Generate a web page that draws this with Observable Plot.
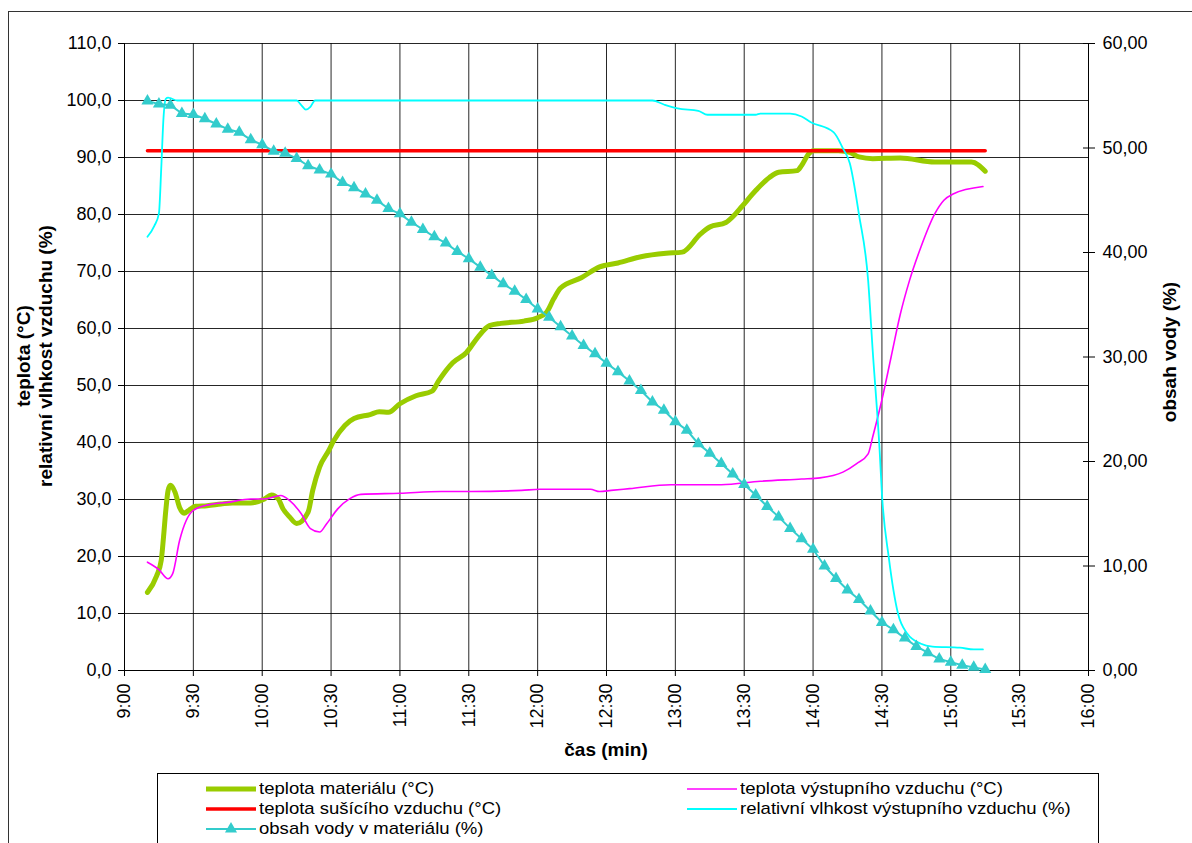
<!DOCTYPE html>
<html><head><meta charset="utf-8">
<script src="https://cdn.jsdelivr.net/npm/d3@7"></script>
<script src="https://cdn.jsdelivr.net/npm/@observablehq/plot@0.6"></script>
<style>
body{margin:0;background:#fff;font-family:"Liberation Sans",Arial,sans-serif;}
#wrap{position:relative;width:1192px;height:843px;overflow:hidden;background:#fff;}
#frame{position:absolute;left:8px;top:11px;width:1300px;height:900px;border:1.5px solid #333;}
#chart{position:absolute;left:0;top:0;}
#legend{position:absolute;left:157px;top:773px;width:940px;height:100px;border:1px solid #000;background:#fff;}
.item{position:absolute;height:20px;display:flex;align-items:center;font-size:17px;white-space:nowrap;color:#000;}
.item svg{flex:none;margin-right:3px;}
.item span{display:inline-block;transform:scaleX(1.09);transform-origin:left center;}
</style></head>
<body>
<div id="wrap">
  <div id="frame"></div>
  <div id="chart"></div>
  <div id="legend"></div>
</div>
<script>
// ---------- data ----------
const xTickLabels = ["9:00","9:30","10:00","10:30","11:00","11:30","12:00","12:30","13:00","13:30","14:00","14:30","15:00","15:30","16:00"];
const leftTicks = [0,10,20,30,40,50,60,70,80,90,100,110];
const rightTicks = [0,10,20,30,40,50,60];

// teplota materiálu (°C)
const materialTime = ["9:10","9:14","9:16","9:17","9:18","9:19","9:20","9:22","9:24","9:26","9:28","9:31","9:36","9:42","9:47","9:55","10:01","10:04","10:07","10:09","10:12","10:15","10:20","10:22","10:25","10:29","10:31","10:36","10:40","10:47","10:51","10:55","11:00","11:07","11:14","11:17","11:23","11:29","11:34","11:39","11:44","11:54","12:00","12:04","12:07","12:10","12:19","12:27","12:35","12:45","12:56","13:03","13:11","13:15","13:22","13:25","13:29","13:35","13:41","13:45","13:53","13:55","13:58","14:00","14:11","14:16","14:20","14:26","14:38","14:53","15:09","15:15"];
const materialTemp = [13.7,16.6,19.3,23.4,28.1,31.6,32.5,31.3,28.6,27.6,28.1,28.8,28.9,29.2,29.4,29.4,30.1,30.8,30.1,28.4,26.9,25.8,27.8,31.6,35.7,38.6,40.2,43.0,44.2,44.9,45.4,45.3,46.8,48.2,49.0,50.9,54.0,55.8,58.5,60.5,60.9,61.3,61.9,62.9,65.2,67.1,68.9,70.8,71.5,72.6,73.2,73.4,76.6,77.8,78.6,79.6,81.4,84.2,86.5,87.4,87.7,88.6,90.6,91.2,91.2,90.9,90.1,89.8,89.9,89.2,89.2,87.6];

// teplota sušícího vzduchu (°C)
const dryingTime = ["9:10","15:15"];
const dryingTemp = [91.2,91.2];

// teplota výstupního vzduchu (°C)
const outletTime = ["9:10","9:15","9:19","9:21","9:24","9:30","9:37","9:45","9:55","10:01","10:08","10:12","10:17","10:21","10:25","10:28","10:33","10:38","10:43","11:00","11:18","11:31","11:53","12:01","12:23","12:27","12:32","12:40","12:58","13:20","13:37","13:55","14:03","14:13","14:19","14:24","14:26","14:30","14:34","14:38","14:42","14:47","14:53","14:57","15:01","15:14"];
const outletTemp = [19.0,17.7,16.1,17.0,22.8,28.1,29.1,29.5,30.1,30.1,30.7,29.8,27.5,24.9,24.3,25.7,28.4,30.1,30.9,31.1,31.4,31.4,31.6,31.8,31.8,31.4,31.6,31.9,32.6,32.6,33.2,33.6,33.8,34.8,36.3,38.0,41.0,47.5,55.0,62.5,68.4,74.3,80.1,82.5,83.6,84.9];

// relativní vlhkost výstupního vzduchu (%)
const humidityTime = ["9:10","9:13","9:15","9:16","9:17","9:18","9:19","9:20","9:23","10:15","10:17","10:19","10:21","10:23","12:50","12:55","13:01","13:10","13:14","13:35","13:37","13:50","13:55","13:59","14:09","14:13","14:16","14:20","14:24","14:26","14:29","14:30","14:33","14:37","14:41","14:47","14:52","15:04","15:10","15:14"];
const humidityVal = [76.1,78.0,80.2,88.0,97.0,100.3,100.5,100.4,100.0,100.0,99.2,98.4,98.9,100.0,100.0,99.3,98.6,98.2,97.5,97.5,97.7,97.7,97.2,96.2,94.4,91.6,89.0,80.0,68.4,56.0,38.6,31.0,19.8,10.0,6.5,4.7,4.2,4.0,3.7,3.7];

// obsah vody v materiálu (%) — right axis
const waterTime = ["9:10","9:15","9:20","9:25","9:30","9:35","9:40","9:45","9:50","9:55","10:00","10:05","10:10","10:15","10:20","10:25","10:30","10:35","10:40","10:45","10:50","10:55","11:00","11:05","11:10","11:15","11:20","11:25","11:30","11:35","11:40","11:45","11:50","11:55","12:00","12:05","12:10","12:15","12:20","12:25","12:30","12:35","12:40","12:45","12:50","12:55","13:00","13:05","13:10","13:15","13:20","13:25","13:30","13:35","13:40","13:45","13:50","13:55","14:00","14:05","14:10","14:15","14:20","14:25","14:30","14:35","14:40","14:45","14:50","14:55","15:00","15:05","15:10","15:15"];
const waterVal = [54.5,54.2,54.1,53.3,53.2,52.8,52.3,51.8,51.5,50.8,50.3,49.7,49.5,49.0,48.3,47.9,47.5,46.7,46.2,45.6,45.0,44.2,43.7,42.9,42.2,41.5,40.9,40.1,39.4,38.6,37.8,37.0,36.3,35.5,34.6,33.8,32.9,32.0,31.1,30.3,29.4,28.6,27.7,26.8,25.7,24.9,23.8,23.0,21.7,20.8,19.8,18.8,17.8,16.8,15.7,14.7,13.6,12.6,11.6,10.0,8.8,7.7,6.8,5.7,4.6,3.9,3.1,2.3,1.7,1.1,0.8,0.5,0.3,0.1];

const series = [
  {name:"teplota materiálu (°C)", color:"#99CC00", width:5},
  {name:"teplota výstupního vzduchu (°C)", color:"#FF00FF", width:1.6},
  {name:"teplota sušícího vzduchu (°C)", color:"#FF0000", width:3.5},
  {name:"relativní vlhkost výstupního vzduchu (%)", color:"#00FFFF", width:1.8},
  {name:"obsah vody v materiálu (%)", color:"#33CCCC", width:2}
];

// ---------- helpers ----------
const toMin = s => { const [h,m] = s.split(":").map(Number); return h*60+m; };
const fmtTime = m => `${Math.floor(m/60)}:${String(Math.round(m%60)).padStart(2,"0")}`;
const K = 110/60; // right axis -> left axis units
const rows = (times, vals, k=1) => times.map((t,i)=>({t:toMin(t), v:vals[i]*k}));

const material = rows(materialTime, materialTemp);
const drying = rows(dryingTime, dryingTemp);
const outlet = rows(outletTime, outletTemp);
const humidity = rows(humidityTime, humidityVal);
const water = rows(waterTime, waterVal, K);

const FONT = '"Liberation Sans", Arial, sans-serif';
const xTicks = xTickLabels.map(toMin);
const TRI_R = 4.5;

const chart = Plot.plot({
  width:1192, height:770,
  marginLeft:124, marginRight:104, marginTop:43, marginBottom:100,
  style:{fontFamily:FONT, fontSize:"18px", color:"#000", background:"transparent", overflow:"visible"},
  x:{domain:[toMin("9:00"), toMin("16:00")]},
  y:{domain:[0,110]},
  marks:[
    Plot.gridY(leftTicks, {stroke:"#000", strokeOpacity:0.85, strokeWidth:1}),
    Plot.gridX(xTicks, {stroke:"#000", strokeOpacity:0.85, strokeWidth:1}),
    Plot.axisY(leftTicks, {anchor:"left", tickSize:6, tickPadding:7, label:null, tickFormat:d=>d.toFixed(1).replace(".",",")}),
    Plot.axisY(rightTicks.map(v=>v*K), {anchor:"right", tickSize:6, tickPadding:8, label:null, tickFormat:d=>(d/K).toFixed(2).replace(".",",")}),
    Plot.axisY(rightTicks.map(v=>v*K), {anchor:"right", tickSize:6, dx:-6, label:null, tickFormat:()=>""}),
    Plot.axisX(xTicks, {anchor:"bottom", tickSize:6, tickPadding:7, tickRotate:-90, label:null, tickFormat:fmtTime}),
    Plot.ruleX([toMin("9:00")], {stroke:"#000"}),
    Plot.ruleX([toMin("16:00")], {stroke:"#000"}),
    Plot.ruleY([0], {stroke:"#000"}),
    Plot.line(material, {x:"t", y:"v", stroke:series[0].color, strokeWidth:series[0].width, curve:"monotone-x"}),
    Plot.line(drying, {x:"t", y:"v", stroke:series[2].color, strokeWidth:series[2].width}),
    Plot.line(outlet, {x:"t", y:"v", stroke:series[1].color, strokeWidth:series[1].width, curve:"monotone-x"}),
    Plot.line(humidity, {x:"t", y:"v", stroke:series[3].color, strokeWidth:series[3].width, curve:"monotone-x"}),
    Plot.line(water, {x:"t", y:"v", stroke:series[4].color, strokeWidth:series[4].width}),
    Plot.dot(water, {x:"t", y:"v", symbol:"triangle", r:TRI_R, fill:series[4].color, stroke:"none"})
  ]
});
document.getElementById("chart").appendChild(chart);

// axis titles
const svg = d3.select(chart);
const title = (x, y, rot, txt) => svg.append("text")
  .attr("transform", `translate(${x},${y}) rotate(${rot})`)
  .attr("text-anchor","middle")
  .style("font-family", FONT).style("font-weight","bold").style("font-size","19px")
  .attr("fill","#000").text(txt);
title(30, 356, -90, "teplota (°C)");
title(52, 356, -90, "relativní vlhkost vzduchu (%)");
title(1176, 352, -90, "obsah vody (%)");
title(606, 756, 0, "čas (min)");

// legend
const legend = document.getElementById("legend");
const place = [
  {s:0, left:48, top:5},
  {s:1, left:529, top:5},
  {s:2, left:48, top:25},
  {s:3, left:529, top:25},
  {s:4, left:48, top:45}
];
for (const p of place) {
  const s = series[p.s];
  const div = document.createElement("div");
  div.className = "item";
  div.style.left = p.left + "px";
  div.style.top = p.top + "px";
  const w = 50;
  let sw = `<svg width="${w}" height="20"><line x1="0" y1="10" x2="${w}" y2="10" stroke="${s.color}" stroke-width="${s.width}"/>`;
  if (p.s === 4) sw += `<path d="${d3.symbol(d3.symbolTriangle, Math.PI*TRI_R*TRI_R)()}" transform="translate(${w/2},10)" fill="${s.color}"/>`;
  sw += `</svg>`;
  div.innerHTML = sw + `<span>${s.name}</span>`;
  legend.appendChild(div);
}
</script>
</body></html>
